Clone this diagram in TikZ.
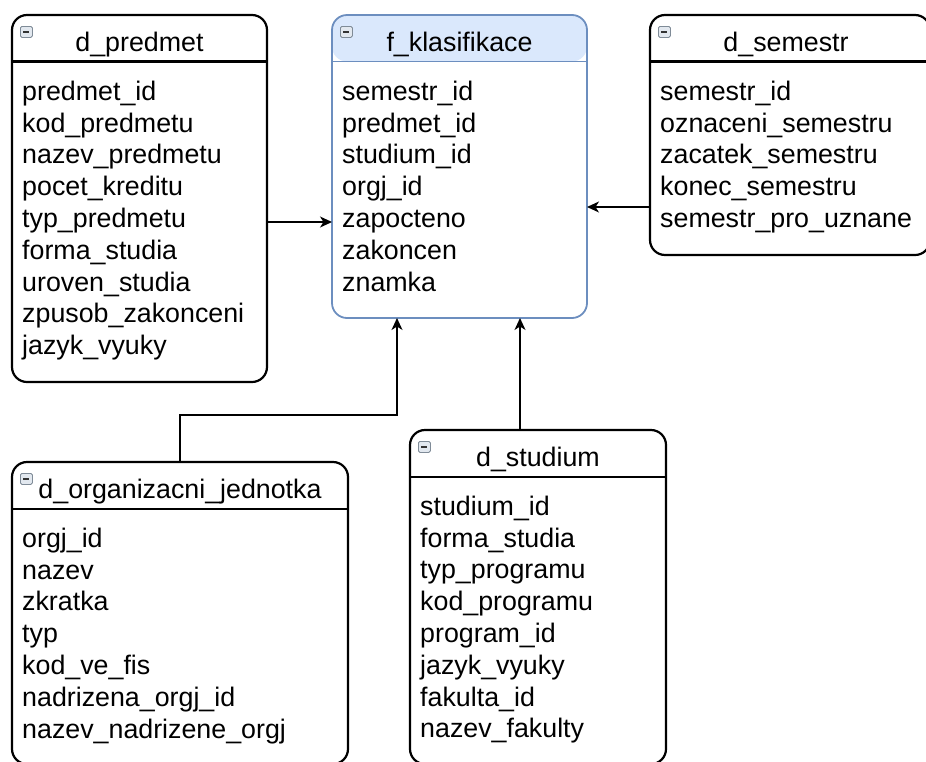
\documentclass[tikz,border=0pt]{standalone}
\usepackage{fontspec}
\setmainfont{Liberation Sans}
\usetikzlibrary{arrows.meta}

\definecolor{modra}{HTML}{DAE8FC}
\definecolor{modrahrana}{HTML}{6C8EBF}
\definecolor{ikonavypln}{HTML}{E2E8EF}
\definecolor{ikonahrana}{HTML}{7F8B97}

\begin{document}
\begin{tikzpicture}[
        x=1pt, y=-1pt,
        font=\fontsize{26.8}{31.8}\selectfont,
        tabulka/.style={draw=black, line width=2.2pt, rounded corners=15pt,
            anchor=north west, inner sep=0pt, outer sep=0pt},
        fakt/.style={tabulka, draw=modrahrana, line width=1.8pt,
            path picture={\fill[modra] (path picture bounding box.north west)
                rectangle ([yshift=-46.5pt]path picture bounding box.north east);}},
        titul/.style={anchor=base, inner sep=0pt},
        telo/.style={anchor=north west, align=left, inner sep=0pt},
        ikona/.style={draw=ikonahrana, fill=ikonavypln, line width=0.8pt,
            rounded corners=1.5pt, anchor=north west, inner sep=0pt,
            minimum width=12pt, minimum height=11pt,
            path picture={\draw[black!80, line width=1.5pt]
                ([xshift=3pt]path picture bounding box.west) --
                ([xshift=-3pt]path picture bounding box.east);}},
        vazba/.style={line width=1.3pt, -{Stealth[length=12pt, width=11pt, inset=3.5pt]}}
    ]
        % Okraj obrazku
        \useasboundingbox (0,0) rectangle (926,761);
        \clip (0,0) rectangle (926,761);

        % Tabulka d_predmet
        \node[tabulka, minimum width=255pt, minimum height=367pt] (predmet) at (12,15) {};
        \draw[line width=2.2pt]
            ([yshift=-46.5pt]predmet.north west) -- ([yshift=-46.5pt]predmet.north east);
        \node[ikona] (predmet-i) at ([xshift=8pt, yshift=-11pt]predmet.north west) {};
        \node[titul] (predmet-t) at ([yshift=-36pt]predmet.north) {d\_predmet};
        \node[telo] (predmet-b) at ([xshift=10pt, yshift=-65.6pt]predmet.north west) {
            predmet\_id\\kod\_predmetu\\nazev\_predmetu\\pocet\_kreditu\\typ\_predmetu\\
            forma\_studia\\uroven\_studia\\zpusob\_zakonceni\\jazyk\_vyuky};

        % Tabulka f_klasifikace
        \node[fakt, minimum width=255pt, minimum height=303pt] (klas) at (332,15) {};
        \draw[modrahrana, line width=1.8pt]
            ([yshift=-46.5pt]klas.north west) -- ([yshift=-46.5pt]klas.north east);
        \node[ikona] (klas-i) at ([xshift=8pt, yshift=-11pt]klas.north west) {};
        \node[titul] (klas-t) at ([yshift=-36pt]klas.north) {f\_klasifikace};
        \node[telo] (klas-b) at ([xshift=10pt, yshift=-65.6pt]klas.north west) {
            semestr\_id\\predmet\_id\\studium\_id\\orgj\_id\\zapocteno\\zakoncen\\znamka};

        % Tabulka d_semestr
        \node[tabulka, minimum width=280pt, minimum height=240pt] (semestr) at (650,15) {};
        \draw[line width=2.2pt]
            ([yshift=-46.5pt]semestr.north west) -- ([yshift=-46.5pt]semestr.north east);
        \node[ikona] (semestr-i) at ([xshift=8pt, yshift=-11pt]semestr.north west) {};
        \node[titul] (semestr-t) at ([xshift=-4pt, yshift=-36pt]semestr.north) {d\_semestr};
        \node[telo] (semestr-b) at ([xshift=10pt, yshift=-65.6pt]semestr.north west) {
            semestr\_id\\oznaceni\_semestru\\zacatek\_semestru\\konec\_semestru\\
            semestr\_pro\_uznane};

        % Tabulka d_organizacni_jednotka
        \node[tabulka, minimum width=336pt, minimum height=302pt] (organiz) at (12,462) {};
        \draw[line width=2.2pt]
            ([yshift=-47pt]organiz.north west) -- ([yshift=-47pt]organiz.north east);
        \node[ikona] (organiz-i) at ([xshift=8pt, yshift=-11pt]organiz.north west) {};
        \node[titul] (organiz-t) at ([yshift=-36pt]organiz.north) {d\_organizacni\_jednotka};
        \node[telo] (organiz-b) at ([xshift=10pt, yshift=-65.6pt]organiz.north west) {
            orgj\_id\\nazev\\zkratka\\typ\\kod\_ve\_fis\\nadrizena\_orgj\_id\\
            nazev\_nadrizene\_orgj};

        % Tabulka d_studium
        \node[tabulka, minimum width=256pt, minimum height=334pt] (studium) at (410,430) {};
        \draw[line width=2.2pt]
            ([yshift=-47pt]studium.north west) -- ([yshift=-47pt]studium.north east);
        \node[ikona] (studium-i) at ([xshift=8pt, yshift=-11pt]studium.north west) {};
        \node[titul] (studium-t) at ([yshift=-36pt]studium.north) {d\_studium};
        \node[telo] (studium-b) at ([xshift=10pt, yshift=-65.6pt]studium.north west) {
            studium\_id\\forma\_studia\\typ\_programu\\kod\_programu\\program\_id\\
            jazyk\_vyuky\\fakulta\_id\\nazev\_fakulty};

        % Vazby
        \draw[vazba] (predmet.east |- 0,222) -- (klas.west |- 0,222);
        \draw[vazba] (semestr.west |- 0,207) -- (klas.east |- 0,207);
        \draw[vazba] (organiz.north -| 180,0) -- (180,415) -| (klas.south -| 397,0);
        \draw[vazba] (studium.north -| 520,0) -- (klas.south -| 520,0);

    \end{tikzpicture}
\end{document}
